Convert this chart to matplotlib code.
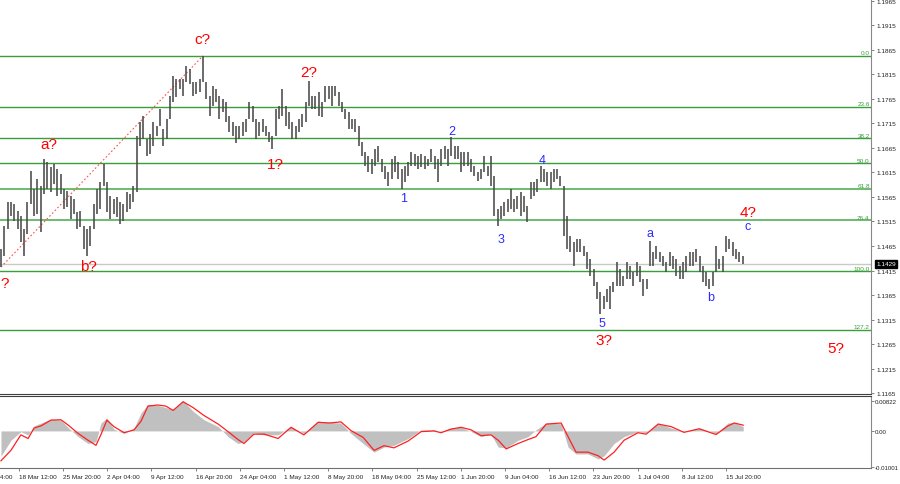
import numpy as np
import matplotlib
matplotlib.use("Agg")
import matplotlib.pyplot as plt
import matplotlib.transforms as mtransforms

# H4-style bars (high / low)
hi = [
    1.1459, 1.1506, 1.1555, 1.1555, 1.1551, 1.1537, 1.1526, 1.1500, 1.1555, 1.1618,
    1.1581, 1.1602, 1.1588, 1.1643, 1.1637, 1.1626, 1.1632, 1.1622, 1.1612, 1.1581,
    1.1577, 1.1567, 1.1561, 1.1535, 1.1537, 1.1506, 1.1500, 1.1506, 1.1551, 1.1581,
    1.1596, 1.1632, 1.1596, 1.1567, 1.1561, 1.1565, 1.1555, 1.1551, 1.1575, 1.1571,
    1.1588, 1.1690, 1.1718, 1.1730, 1.1683, 1.1694, 1.1718, 1.1710, 1.1745, 1.1704,
    1.1724, 1.1771, 1.1812, 1.1806, 1.1806, 1.1806, 1.1832, 1.1826, 1.1800, 1.1800,
    1.1806, 1.1853, 1.1800, 1.1771, 1.1792, 1.1785, 1.1771, 1.1765, 1.1759, 1.1730,
    1.1718, 1.1710, 1.1710, 1.1718, 1.1724, 1.1759, 1.1751, 1.1724, 1.1718, 1.1724,
    1.1710, 1.1698, 1.1690, 1.1745, 1.1751, 1.1785, 1.1751, 1.1739, 1.1718, 1.1710,
    1.1724, 1.1734, 1.1759, 1.1802, 1.1771, 1.1771, 1.1779, 1.1759, 1.1792, 1.1792,
    1.1792, 1.1792, 1.1779, 1.1759, 1.1745, 1.1739, 1.1724, 1.1724, 1.1710, 1.1677,
    1.1657, 1.1649, 1.1643, 1.1663, 1.1669, 1.1643, 1.1628, 1.1616, 1.1643, 1.1649,
    1.1637, 1.1622, 1.1628, 1.1637, 1.1657, 1.1653, 1.1649, 1.1653, 1.1649, 1.1643,
    1.1663, 1.1649, 1.1643, 1.1663, 1.1669, 1.1663, 1.1688, 1.1669, 1.1669, 1.1657,
    1.1657, 1.1657, 1.1643, 1.1628, 1.1616, 1.1622, 1.1649, 1.1628, 1.1649, 1.1608,
    1.1541, 1.1547, 1.1555, 1.1561, 1.1581, 1.1561, 1.1567, 1.1575, 1.1567, 1.1547,
    1.1596, 1.1596, 1.1602, 1.1628, 1.1622, 1.1616, 1.1616, 1.1622, 1.1622, 1.1608,
    1.1588, 1.1526, 1.1486, 1.1473, 1.1479, 1.1479, 1.1465, 1.1453, 1.1439, 1.1418,
    1.1392, 1.1371, 1.1363, 1.1377, 1.1383, 1.1392, 1.1432, 1.1418, 1.1404, 1.1432,
    1.1424, 1.1412, 1.1432, 1.1424, 1.1398, 1.1398, 1.1475, 1.1453, 1.1465, 1.1453,
    1.1445, 1.1432, 1.1453, 1.1445, 1.1439, 1.1424, 1.1432, 1.1445, 1.1453, 1.1453,
    1.1459, 1.1445, 1.1424, 1.1412, 1.1398, 1.1412, 1.1465, 1.1439, 1.1445, 1.1486,
    1.1479, 1.1473, 1.1459, 1.1453, 1.1445,
]
lo = [
    1.1422, 1.1445, 1.1500, 1.1526, 1.1516, 1.1500, 1.1473, 1.1445, 1.1490, 1.1551,
    1.1526, 1.1530, 1.1494, 1.1571, 1.1581, 1.1575, 1.1592, 1.1567, 1.1571, 1.1541,
    1.1545, 1.1520, 1.1530, 1.1500, 1.1504, 1.1459, 1.1445, 1.1465, 1.1500, 1.1530,
    1.1541, 1.1588, 1.1535, 1.1520, 1.1530, 1.1524, 1.1510, 1.1516, 1.1535, 1.1541,
    1.1555, 1.1575, 1.1669, 1.1683, 1.1649, 1.1653, 1.1669, 1.1690, 1.1710, 1.1669,
    1.1683, 1.1724, 1.1759, 1.1769, 1.1785, 1.1771, 1.1800, 1.1796, 1.1771, 1.1775,
    1.1779, 1.1800, 1.1765, 1.1730, 1.1751, 1.1759, 1.1724, 1.1739, 1.1718, 1.1698,
    1.1690, 1.1675, 1.1683, 1.1690, 1.1698, 1.1724, 1.1718, 1.1683, 1.1690, 1.1698,
    1.1690, 1.1677, 1.1663, 1.1690, 1.1724, 1.1730, 1.1710, 1.1704, 1.1683, 1.1683,
    1.1698, 1.1708, 1.1718, 1.1751, 1.1745, 1.1745, 1.1730, 1.1728, 1.1759, 1.1765,
    1.1751, 1.1771, 1.1751, 1.1739, 1.1724, 1.1704, 1.1704, 1.1698, 1.1669, 1.1649,
    1.1628, 1.1616, 1.1612, 1.1628, 1.1637, 1.1616, 1.1602, 1.1588, 1.1602, 1.1616,
    1.1602, 1.1581, 1.1596, 1.1608, 1.1628, 1.1628, 1.1622, 1.1626, 1.1622, 1.1628,
    1.1637, 1.1622, 1.1596, 1.1628, 1.1643, 1.1628, 1.1649, 1.1643, 1.1643, 1.1616,
    1.1628, 1.1628, 1.1616, 1.1608, 1.1598, 1.1602, 1.1616, 1.1608, 1.1588, 1.1526,
    1.1506, 1.1520, 1.1526, 1.1535, 1.1541, 1.1535, 1.1541, 1.1526, 1.1535, 1.1514,
    1.1561, 1.1567, 1.1575, 1.1596, 1.1596, 1.1588, 1.1581, 1.1596, 1.1602, 1.1588,
    1.1486, 1.1459, 1.1453, 1.1424, 1.1453, 1.1453, 1.1445, 1.1418, 1.1404, 1.1383,
    1.1357, 1.1326, 1.1337, 1.1351, 1.1337, 1.1371, 1.1383, 1.1383, 1.1383, 1.1398,
    1.1398, 1.1383, 1.1404, 1.1392, 1.1363, 1.1377, 1.1424, 1.1424, 1.1439, 1.1432,
    1.1424, 1.1412, 1.1424, 1.1418, 1.1404, 1.1398, 1.1398, 1.1412, 1.1424, 1.1424,
    1.1432, 1.1412, 1.1392, 1.1383, 1.1377, 1.1383, 1.1412, 1.1418, 1.1412, 1.1453,
    1.1459, 1.1445, 1.1439, 1.1432, 1.1428,
]
last_price = 1.1429

# fibonacci grid (swing high / low)
fib_high = 1.1853
fib_low = 1.1414
fib_levels = [0.0, 23.6, 38.2, 50.0, 61.8, 76.4, 100.0, 127.2]

# oscillator: sample positions (bar index), histogram and signal line
osc_pos = [0, 3.0, 6.0, 8.2, 10.0, 12.1, 15.1, 18.1, 20.2, 23.3,
           26.3, 28.7, 30.2, 32.0, 34.1, 37.2, 40.2, 42.3, 44.4, 47.4,
           49.8, 52.0, 55.0, 58.0, 61.3, 65.6, 68.6, 71.6, 73.4, 76.4,
           79.5, 83.7, 87.6, 91.5, 95.8, 99.1, 102.7, 105.7, 109.4, 112.7,
           115.7, 118.7, 123.0, 126.9, 130.8, 132.9, 135.9, 139.0, 142.0, 145.0,
           148.0, 150.2, 152.6, 156.2, 159.2, 161.6, 164.7, 169.2, 171.3, 173.7,
           177.3, 180.4, 182.2, 185.2, 188.2, 192.4, 194.9, 198.5, 202.4, 206.3,
           210.9, 216.0, 219.6, 221.5, 224.2]
osc_hist = [-0.0070, -0.0026, -0.0002, -0.0011, 0.0014, 0.0022, 0.0033, 0.0030, 0.0010, -0.0016,
            -0.0035, -0.0030, 0.0022, 0.0036, 0.0005, -0.0007, 0.0008, 0.0050, 0.0074, 0.0071,
            0.0065, 0.0060, 0.0084, 0.0055, 0.0031, 0.0012, -0.0016, -0.0035, -0.0030, -0.0005,
            -0.0011, -0.0011, 0.0012, -0.0007, 0.0027, 0.0024, 0.0022, -0.0007, -0.0035, -0.0059,
            -0.0045, -0.0040, -0.0021, 0.0003, 0.0003, -0.0002, 0.0008, 0.0010, -0.0002, -0.0016,
            -0.0009, -0.0045, -0.0047, -0.0026, -0.0016, 0.0003, 0.0022, 0.0020, -0.0045, -0.0064,
            -0.0064, -0.0078, -0.0069, -0.0035, -0.0016, -0.0002, -0.0005, 0.0022, 0.0008, -0.0002,
            0.0008, -0.0007, 0.0022, 0.0024, 0.0012]
osc_signal = [-0.0083, -0.0054, -0.0011, -0.0021, 0.0008, 0.0014, 0.0030, 0.0031, 0.0017, -0.0007,
              -0.0026, -0.0040, -0.0010, 0.0030, 0.0012, -0.0005, 0.0003, 0.0027, 0.0069, 0.0072,
              0.0069, 0.0057, 0.0081, 0.0065, 0.0043, 0.0019, -0.0002, -0.0024, -0.0035, -0.0009,
              -0.0009, -0.0021, 0.0010, -0.0011, 0.0024, 0.0022, 0.0025, 0.0001, -0.0018, -0.0054,
              -0.0041, -0.0047, -0.0028, -0.0002, 0.0000, -0.0005, 0.0005, 0.0010, 0.0003, -0.0013,
              -0.0011, -0.0026, -0.0050, -0.0035, -0.0024, -0.0016, 0.0019, 0.0022, -0.0016, -0.0059,
              -0.0059, -0.0069, -0.0081, -0.0059, -0.0026, -0.0005, -0.0009, 0.0019, 0.0012, -0.0004,
              0.0006, -0.0010, 0.0014, 0.0022, 0.0016]

date_labels = ["11 Mar 04:00", "18 Mar 12:00", "25 Mar 20:00", "2 Apr 04:00", "9 Apr 12:00",
               "16 Apr 20:00", "24 Apr 04:00", "1 May 12:00", "8 May 20:00", "18 May 04:00",
               "25 May 12:00", "1 Jun 20:00", "9 Jun 04:00", "16 Jun 12:00", "23 Jun 20:00",
               "1 Jul 04:00", "8 Jul 12:00", "15 Jul 20:00"]

# wave marks: (text, bar position, price)
red_marks = [("?", 1.0, 1.1390), ("a?", 14.5, 1.1673), ("b?", 26.3, 1.1424), ("c?", 61.0, 1.1888),
             ("1?", 82.8, 1.1632), ("2?", 93.0, 1.1820), ("3?", 182.0, 1.1273),
             ("4?", 225.6, 1.1534), ("5?", 252.3, 1.1257)]
blue_marks = [("1", 121.5, 1.1563), ("2", 136.3, 1.1700), ("3", 151.1, 1.1479), ("4", 163.5, 1.1641),
              ("5", 181.6, 1.1308), ("a", 196.1, 1.1492), ("b", 214.5, 1.1361), ("c", 225.4, 1.1506)]

FONT = "Liberation Sans"
plt.rcParams['font.family'] = [FONT, 'DejaVu Sans']

fig = plt.figure(figsize=(9.0, 4.85), dpi=100)
ax = fig.add_axes([0.0, 1 - 395 / 485, 871 / 900, 395 / 485])
ax2 = fig.add_axes([0.0, 1 - 469 / 485, 871 / 900, 72 / 485])

x = np.arange(len(hi))
XLIM = (-0.3, 262.8)
ax.set_xlim(*XLIM)
ax.set_ylim(1.1163, 1.1969)

# fibonacci lines
fib_green = '#3a9e3a'
for lev in fib_levels:
    price = fib_high - lev / 100.0 * (fib_high - fib_low)
    light = lev in (61.8, 76.4)
    ax.axhline(price, color='#6dbb6d' if light else fib_green, lw=1.4 if light else 1.0, zorder=1)
    ax.text(262.4, price + 0.0001, "%.1f" % lev, color=fib_green, fontsize=4.6,
            ha='right', va='bottom', zorder=3)

ax.axhline(last_price, color='#c8c8c8', lw=1.0, zorder=1)

# trend line from the low to the c? top
ax.plot([x[0], x[61]], [lo[0], hi[61]], color='#ff5050', ls=(0, (1.5, 2.0)), lw=0.8, zorder=2)

# price bars
ax.vlines(x, lo, hi, color='#4a4a4a', lw=1.15, zorder=4)

for txt, px, py in red_marks:
    ax.text(px, py, txt, color='#ff0000', fontsize=11, ha='center', va='center', zorder=5)
for txt, px, py in blue_marks:
    ax.text(px, py, txt, color='#2b2bff', fontsize=9, ha='center', va='center', zorder=5)

yt = np.arange(1.1165, 1.1970, 0.005)
ax.set_yticks(yt)
ax.set_yticklabels(["%.4f" % v for v in yt])
ax.yaxis.tick_right()
ax.tick_params(axis='y', length=2.5, width=0.6, color='#707070', labelsize=4.6, pad=1.5,
               labelcolor='#222222')
ax.tick_params(axis='x', bottom=False, labelbottom=False)
for s in ('top', 'left'):
    ax.spines[s].set_visible(False)
ax.spines['right'].set_color('#888888')
ax.spines['bottom'].set_color('#404040')
ax.spines['bottom'].set_linewidth(0.8)

# current price box
trans = mtransforms.blended_transform_factory(ax.transAxes, ax.transData)
ax.text(1.006, last_price, "%.4f" % last_price, transform=trans, color='white', fontsize=4.6,
        ha='left', va='center', zorder=6, clip_on=False,
        bbox=dict(boxstyle='square,pad=0.25', fc='black', ec='black'))

# oscillator panel
ax2.set_xlim(*XLIM)
ax2.set_ylim(-0.0103, 0.0097)
ax2.fill_between(osc_pos, osc_hist, 0, color='#c0c0c0', lw=0, zorder=1)
ax2.plot(osc_pos, osc_signal, color='#ff2020', lw=0.9, zorder=2)
ax2.set_yticks([-0.01001, 0.0, 0.00822])
ax2.set_yticklabels(["-0.01001", "0.00", "0.00822"])
ax2.yaxis.tick_right()
ax2.tick_params(axis='y', length=2.0, width=0.6, color='#707070', labelsize=4.4, pad=1.0,
                labelcolor='#222222')
ax2.spines['left'].set_visible(False)
ax2.spines['top'].set_color('#404040')
ax2.spines['top'].set_linewidth(0.8)
ax2.spines['right'].set_color('#888888')
ax2.spines['bottom'].set_color('#707070')

tick_pos = 5.4 + 13.35 * (np.arange(len(date_labels)) - 1)
ax2.set_xticks(tick_pos[1:])
ax2.set_xticklabels(date_labels[1:], ha='left')
ax2.tick_params(axis='x', length=2.5, width=0.6, color='#707070', labelsize=4.6, pad=1.5,
                labelcolor='#222222')
# first label starts left of the visible area, only its tail shows
ax2.annotate(date_labels[0], xy=(tick_pos[0], 0), xycoords=('data', 'axes fraction'),
             xytext=(0, -4.1), textcoords='offset points', ha='left', va='top',
             fontsize=4.6, color='#222222', annotation_clip=False)

fig.savefig("out.png", dpi=100, facecolor='white')
